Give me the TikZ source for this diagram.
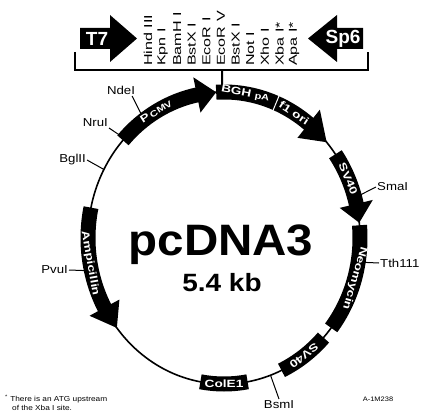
\documentclass[tikz,border=0pt]{standalone}
\usepackage{fontspec}
\setmainfont{Liberation Sans}
\newfontfamily\widefont[FakeStretch=1.15]{Liberation Sans}
\newfontfamily\segfont[FakeStretch=1.3]{Liberation Sans}
\newfontfamily\enzfont[FakeStretch=1.4]{Liberation Sans}
\begin{document}
\begin{tikzpicture}[x=1pt,y=-1pt,
  seg/.style={line width=15pt},
  segtxt/.style={text=white,font=\segfont\fontsize{10.5}{10.5}\selectfont\bfseries,inner sep=0pt},
  site/.style={font=\widefont\fontsize{11.5}{12}\selectfont,inner sep=1pt},
  tick/.style={line width=1pt},
  enz/.style={rotate=90,anchor=west,font=\enzfont\fontsize{11.5}{11}\selectfont,inner sep=0pt},
  hdr/.style={text=white,font=\fontsize{19}{19}\selectfont\bfseries,inner sep=0pt}]
\useasboundingbox (0,0) rectangle (423,417);
\fill[white] (0,0) rectangle (423,417);

% ---------- header ----------
\draw[line width=2pt] (75,52) -- (75,70) -- (368,70) -- (368,52);
\fill (80,28) -- (110,28) -- (110,15) -- (137,38.5) -- (110,62) -- (110,49) -- (80,49) -- cycle;
\fill (363,28) -- (337,28) -- (337,15) -- (308,38.5) -- (337,62) -- (337,49) -- (363,49) -- cycle;
\node[hdr] (t7) at (97,39) {T7};
\node[hdr] (sp6) at (343,39) {Sp6};
\foreach \t [count=\i from 0] in {Hind III,Kpn I,BamH I,BstX I,EcoR I,EcoR V,BstX I,Not I,Xho I,Xba I*,Apa I*}
  \node[enz] (enz\i) at ({148+14.6*\i},66) {\t};

% ---------- map ----------
\coordinate (brk) at (222,70);
\begin{scope}[shift={(224,238)}]
  \coordinate (junc) at (90.84:136pt and 146pt);
  \coordinate (bglc) at (152:136pt and 146pt);
  \coordinate (nruc) at (137:136pt and 146pt);
  \coordinate (ndec) at (126:136pt and 146pt);
  \coordinate (smac) at (16:136pt and 146pt);
  \coordinate (tthc) at (-9.5:136pt and 146pt);
  \coordinate (bsmc) at (-70:136pt and 146pt);
  \coordinate (pvuc) at (193:136pt and 146pt);
\end{scope}
\draw[line width=2pt] (brk) -- (junc);

% site labels and ticks (under the features)
\node[site,anchor=east] (bgl) at (87,160) {BglII};
\node[site,anchor=south east] (nru) at (109,128) {NruI};
\node[site,anchor=south] (nde) at (121,96) {NdeI};
\node[site,anchor=west] (sma) at (376,187) {SmaI};
\node[site,anchor=west] (tth) at (379,263) {Tth111};
\node[site,anchor=north] (bsm) at (279,399) {BsmI};
\node[site,anchor=east] (pvu) at (69,270) {PvuI};
\draw[tick] (bglc) -- (bgl.east);
\draw[tick] (nruc) -- (nru.south east);
\draw[tick] (ndec) -- ([xshift=-4]nde.south east);
\draw[tick] (smac) -- (sma.west);
\draw[tick] (tthc) -- (tth.west);
\draw[tick] (bsmc) -- (bsm.north);
\draw[tick] (pvuc) -- (pvu.east);

\begin{scope}[shift={(224,238)}]
  \draw[line width=1.6pt] (0,0) ellipse [x radius=136pt, y radius=146pt];
  % P CMV
  \draw[seg] (138:136pt and 146pt) arc[start angle=138,end angle=101,x radius=136pt,y radius=146pt];
  \fill (101.5:154pt and 164pt) -- (93.3:136pt and 146pt) -- (101.5:118pt and 128pt) -- cycle;
  % BGH pA
  \draw[seg] (93.3:136pt and 146pt) arc[start angle=93.3,end angle=67.5,x radius=136pt,y radius=146pt];
  % f1 ori
  \draw[seg] (67.5:136pt and 146pt) arc[start angle=67.5,end angle=51,x radius=136pt,y radius=146pt];
  \fill (51.5:154pt and 164pt) -- (41:136pt and 146pt) -- (51.5:118pt and 128pt) -- cycle;
  \draw[white,line width=1pt] (67.5:127pt and 137pt) -- (67.5:145pt and 155pt);
  % SV40 (1)
  \draw[seg] (35:136pt and 146pt) arc[start angle=35,end angle=13,x radius=136pt,y radius=146pt];
  \fill (13.5:153pt and 163pt) -- (6:136pt and 146pt) -- (13.5:119pt and 129pt) -- cycle;
  % Neomycin
  \draw[seg] (5:136pt and 146pt) arc[start angle=5,end angle=-38,x radius=136pt,y radius=146pt];
  % SV40 (2)
  \draw[seg] (-43:136pt and 146pt) arc[start angle=-43,end angle=-65,x radius=136pt,y radius=146pt];
  % ColE1
  \draw[seg] (-80:136pt and 146pt) arc[start angle=-80,end angle=-100,x radius=136pt,y radius=146pt];
  % Ampicillin
  \draw[seg] (168:136pt and 146pt) arc[start angle=168,end angle=209,x radius=136pt,y radius=146pt];
  \fill (208.5:153pt and 163pt) -- (218:136pt and 146pt) -- (208.5:119pt and 129pt) -- cycle;

  \node[segtxt,rotate=32] (pcmv) at (120:136pt and 146pt) {P\,{\fontsize{8.5}{8.5}\selectfont CMV}};
  \node[segtxt,rotate=-11] (bgh) at (81:136pt and 146pt) {BGH {\fontsize{8.5}{8.5}\selectfont pA}};
  \node[segtxt,rotate=-33] (f1) at (59:136pt and 146pt) {f1 ori};
  \node[segtxt,rotate=-67] (sv1) at (24:136pt and 146pt) {SV40};
  \node[segtxt,rotate=-106] (neo) at (-16:136pt and 146pt) {Neomycin};
  \node[segtxt,rotate=-142] (sv2) at (-54:136pt and 146pt) {SV40};
  \node[segtxt] (cole) at (-90:136pt and 146pt) {ColE1};
  \node[segtxt,rotate=-80] (amp) at (190:136pt and 146pt) {Ampicillin};
\end{scope}

\node[font=\fontsize{44}{44}\selectfont\bfseries,xscale=1.08,anchor=base] (title) at (221,255) {pcDNA3};
\node[font=\fontsize{25}{25}\selectfont\bfseries,xscale=1.12,anchor=base] (size) at (222,291) {5.4 kb};

\node[anchor=west,font=\widefont\fontsize{7.2}{8.5}\selectfont,align=left,inner sep=0pt] (fn) at (5,403)
  {\textsuperscript{*}\ There is an ATG upstream\\\hspace{7pt}of the Xba I site.};
\node[font=\widefont\fontsize{6.5}{7}\selectfont,inner sep=0pt] (id) at (378,399) {A-1M238};
\end{tikzpicture}
\end{document}
